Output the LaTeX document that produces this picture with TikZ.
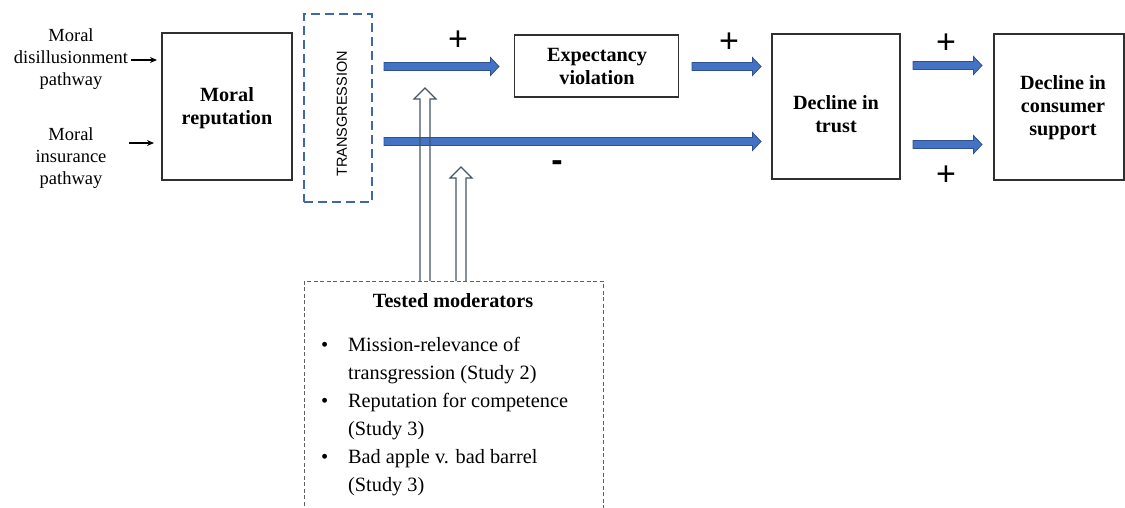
\documentclass[tikz,border=0pt]{standalone}
\usepackage{fontspec}
\setmainfont{Liberation Serif}
\newfontfamily\sansf{Liberation Sans}
\usetikzlibrary{calc,arrows.meta}
\definecolor{bluefill}{HTML}{4472C4}
\definecolor{blueline}{HTML}{2F528F}
\definecolor{dashblue}{HTML}{4068A8}
\definecolor{hollowline}{HTML}{44546A}
\definecolor{boxline}{HTML}{303030}
\newcommand\fatarrow[2]{%
  \path let \p1=(#1), \p2=(#2) in [draw=blueline, line width=0.8pt, fill=bluefill]
    (\x1,\y1+4pt) -- (\x2-8.5pt,\y1+4pt) -- (\x2-8.5pt,\y1+9pt) -- (\x2,\y1)
    -- (\x2-8.5pt,\y1-9pt) -- (\x2-8.5pt,\y1-4pt) -- (\x1,\y1-4pt) -- cycle;}
\newcommand\hollowarrow[2]{%
  \path let \p1=(#1), \p2=(#2) in [draw=hollowline, line width=1.1pt, line join=miter]
    (\x1-5pt,\y1) -- (\x1-5pt,\y2-11pt) -- (\x1-11pt,\y2-11pt) -- (\x1,\y2)
    -- (\x1+11pt,\y2-11pt) -- (\x1+5pt,\y2-11pt) -- (\x1+5pt,\y1);}
\tikzset{
  box/.style={draw=boxline, line width=1.4pt, minimum width=#1, inner sep=0pt},
  boldtxt/.style={font=\fontsize{20.2}{23}\selectfont\bfseries, align=center, inner sep=0pt},
  sidetxt/.style={font=\fontsize{18.5}{22}\selectfont, align=center, inner sep=0pt},
  sign/.style={font=\sansf\fontsize{34}{34}\selectfont, inner sep=0pt},
  smallarr/.style={-{Stealth[length=7pt,width=6pt]}, line width=1.2pt, black},
}
\begin{document}
\begin{tikzpicture}[x=1pt,y=-1pt]
\useasboundingbox (0,0) rectangle (1125,507);

% left labels
\node[sidetxt] (disl) at (71,59) {Moral\\disillusionment\\pathway};
\node[sidetxt] (insl) at (71,158) {Moral\\insurance\\pathway};
\coordinate (d1) at (131,60); \coordinate (d2) at (157,60);
\coordinate (i1) at (129,143); \coordinate (i2) at (154,143);
\draw[smallarr] (d1) -- (d2);
\draw[smallarr] (i1) -- (i2);

% moral reputation
\node[box=130pt, minimum height=147pt] (rep) at (227,106.5) {};
\node[boldtxt] (replbl) at (227,108) {Moral\\reputation};

% transgression
\node[draw=dashblue, line width=1.8pt, dash pattern=on 9pt off 5pt,
      minimum width=68pt, minimum height=188pt, inner sep=0pt] (trans) at (338,108) {};
\node[font=\sansf\fontsize{14.5}{14.5}\selectfont, rotate=90, inner sep=0pt] (translbl) at (342,114) {TRANSGRESSION};

% expectancy violation
\node[box=164pt, minimum height=62pt] (exp) at (596.5,66) {};
\node[boldtxt] (explbl) at (597,66.5) {Expectancy\\violation};

% decline in trust
\node[box=128pt, minimum height=145pt] (trust) at (836,106.5) {};
\node[boldtxt] (trustlbl) at (836,114) {Decline in\\trust};

% decline in consumer support
\node[box=130pt, minimum height=146pt] (cons) at (1059,107) {};
\node[boldtxt] (conslbl) at (1063,108) {Decline in\\consumer\\support};

% blue arrows
\coordinate (a1s) at (384,66.5); \coordinate (a1e) at (499,66.5);
\coordinate (a2s) at (692,66.5); \coordinate (a2e) at (761,66.5);
\coordinate (a3s) at (384,141.5); \coordinate (a3e) at (761,141.5);
\coordinate (a4s) at (913,65.5); \coordinate (a4e) at (982,65.5);
\coordinate (a5s) at (913,144.5); \coordinate (a5e) at (982,144.5);
\fatarrow{a1s}{a1e}
\fatarrow{a2s}{a2e}
\fatarrow{a3s}{a3e}
\fatarrow{a4s}{a4e}
\fatarrow{a5s}{a5e}

% signs
\node[sign] (p1) at (458,41) {+};
\node[sign] (p2) at (729,43) {+};
\node[sign] (p3) at (946,44) {+};
\node[sign] (p4) at (946,176) {+};
\node[sign, font=\sansf\bfseries\fontsize{34}{34}\selectfont] (m1) at (557,166) {-};

% moderators box
\draw[draw=gray!75!black, line width=0.8pt, dash pattern=on 4pt off 2.5pt]
  (304,512) -- (304,281) -- (603,281) -- (603,512);
\node[boldtxt] (modtitle) at (453,301) {Tested moderators};
\node[anchor=base west, inner sep=0pt, font=\fontsize{20.3}{28}\selectfont] (modlist) at (321,351) {%
  \renewcommand{\arraystretch}{1}%
  \begin{tabular}[t]{@{}p{27pt}@{}l@{}}
  \textbullet & Mission-relevance of\\
   & transgression (Study 2)\\
  \textbullet & Reputation for competence\\
   & (Study 3)\\
  \textbullet & Bad apple v. bad barrel\\
   & (Study 3)
  \end{tabular}};

% hollow moderator arrows
\coordinate (h1s) at (425,281); \coordinate (h1e) at (425,88);
\coordinate (h2s) at (461,281); \coordinate (h2e) at (461,167);
\hollowarrow{h1s}{h1e}
\hollowarrow{h2s}{h2e}
\end{tikzpicture}
\end{document}
